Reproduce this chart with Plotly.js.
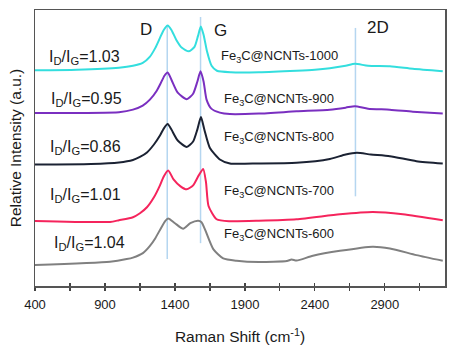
<!DOCTYPE html>
<html>
<head>
<meta charset="utf-8">
<script src="https://cdn.plot.ly/plotly-3.0.1.min.js"></script>
<style>html,body{margin:0;padding:0;background:#fff;}#chart{width:470px;height:355px;}</style>
</head>
<body>
<div id="chart"></div>
<script>
// Raman shift (cm-1) sample points and relative intensities (a.u., stacked offsets)
const x1000 = [400,700,1000,1100,1170,1220,1260,1293,1320,1348,1375,1410,1450,1500,1540,1565,1585,1605,1630,1662,1700,1800,2000,2269,2400,2507,2620,2686,2780,2936,3100,3314];
const y1000 = [216.5,217,219,221,224,230,239,249,257,261.5,257,247,239,235.5,240,251,260.5,252,235,221,216,214.5,214.5,216,217,218.5,221,223,221,220.5,218,215.5];

const x900 = [400,1000,1100,1170,1221,1270,1300,1325,1348,1375,1420,1484,1530,1560,1583,1605,1626,1660,1721,1793,2000,2269,2507,2620,2686,2780,2936,3100,3314];
const y900 = [173.7,174.5,177,181,187,196,204,211,214.3,207,194,187.5,193,205,215.5,205,187,178,174,172.5,173,175.3,177,179,180.5,178,177,175,173];

const x800 = [400,800,1000,1100,1150,1200,1250,1293,1320,1348,1375,1420,1484,1530,1560,1586,1610,1650,1721,1793,2000,2269,2507,2620,2700,2800,2936,3126,3314];
const y800 = [122,122.5,124,126.5,129.5,134,142,151,158,162.5,157,146,139.5,145,157,169.5,157,138.5,127,123,123,123.7,127.5,132,133.7,132,130.3,125.3,123];

const x700 = [400,936,1000,1100,1150,1200,1250,1293,1320,1352,1390,1440,1484,1530,1570,1602,1622,1640,1698,1793,2000,2269,2579,2814,3029,3314];
const y700 = [65.3,64.3,66,69,73,79,89,101,110,116,107,100,97,101,111,117.5,104,80.3,67,65,65.5,67,72,74.3,72,66];

const x600 = [400,936,1055,1100,1171,1220,1260,1300,1330,1352,1400,1459,1510,1566,1590,1614,1674,1745,1841,2000,2200,2233,2270,2386,2579,2814,2936,3126,3314];
const y600 = [21,24.3,27,28.5,33,40,48,58,65,67.7,63,57.5,63,65.5,64,57,37,27.7,25.3,24,25,26.5,25.5,30.3,35.3,39.5,37.7,31,25.3];

const sampleNames = ["Fe<sub>3</sub>C@NCNTs-1000","Fe<sub>3</sub>C@NCNTs-900","Fe<sub>3</sub>C@NCNTs-800","Fe<sub>3</sub>C@NCNTs-700","Fe<sub>3</sub>C@NCNTs-600"];
const ratioLabels = ["1.03","0.95","0.86","1.01","1.04"];
const bandNames = ["D","G","2D"];
const bandPositions = [1345,1583,2690];
const xTickVals = [400,900,1400,1900,2400,2900];

const colors = ["#33dede","#7a2fc0","#1b2233","#f5245c","#808080"];
const xs = [x1000,x900,x800,x700,x600];
const ys = [y1000,y900,y800,y700,y600];

const traces = xs.map((x,i)=>({
  x: x, y: ys[i], type:'scatter', mode:'lines',
  line:{color:colors[i], width:2, shape:'spline', smoothing:0.6},
  showlegend:false, hoverinfo:'skip'
}));
// dummy trace for the overlay axis that draws the inner half of crossing ticks
traces.push({x:[400],y:[0],xaxis:'x2',yaxis:'y',mode:'markers',marker:{opacity:0},showlegend:false,hoverinfo:'skip'});

// band marker line extents (y, a.u.)
const bandLineY = [[27,262],[43,270],[90,259]];
const shapes = bandPositions.map((b,i)=>({
  type:'line', xref:'x', yref:'y', x0:b, x1:b, y0:bandLineY[i][0], y1:bandLineY[i][1],
  line:{color:'#b5d6f0', width:1.5}, layer:'below'
}));

const font = 'Arial, "Liberation Sans", sans-serif';
const annotations = [];
const ratioPos = [[486,229],[500,187.5],[493,139],[493,91],[519,43]];
ratioLabels.forEach((r,i)=>{
  annotations.push({x:ratioPos[i][0], y:ratioPos[i][1], xref:'x', yref:'y', xanchor:'left', yanchor:'middle',
    text:'I<sub>D</sub>/I<sub>G</sub>='+r, showarrow:false, font:{family:font,size:16,color:'#1a1a1a'}});
});
const namePos = [[1714,230],[1733,187.5],[1733,149.3],[1733,95.3],[1733,51.5]];
sampleNames.forEach((n,i)=>{
  annotations.push({x:namePos[i][0], y:namePos[i][1], xref:'x', yref:'y', xanchor:'left', yanchor:'middle',
    text:n, showarrow:false, font:{family:font,size:13,color:'#1a1a1a'}});
});
const bandLabelPos = [[1193,257],[1729,256],[2850,259]];
bandNames.forEach((b,i)=>{
  annotations.push({x:bandLabelPos[i][0], y:bandLabelPos[i][1], xref:'x', yref:'y', xanchor:'center', yanchor:'middle',
    text:b, showarrow:false, font:{family:font,size:17,color:'#1a1a1a'}});
});

const layout = {
  width:470, height:355,
  margin:{l:35, r:25, t:10, b:69},
  paper_bgcolor:'#fff', plot_bgcolor:'#fff',
  font:{family:font, color:'#1a1a1a'},
  xaxis:{
    range:[400,3330], tickvals:xTickVals, ticktext:xTickVals.map(String),
    ticks:'outside', ticklen:3, tickwidth:1.2, tickcolor:'#444', ticklabelstandoff:3,
    minor:{dtick:250, tick0:400, ticks:'outside', ticklen:3, tickwidth:1.2, tickcolor:'#444'},
    showline:true, mirror:true, linecolor:'#555', linewidth:1.5,
    showgrid:false, zeroline:false,
    tickfont:{family:font,size:13,color:'#1a1a1a'},
    title:{text:'Raman Shift (cm<sup>-1</sup>)', font:{family:font,size:15.5,color:'#1a1a1a'}, standoff:20}
  },
  xaxis2:{
    overlaying:'x', side:'bottom', anchor:'y', range:[400,3330], tickvals:xTickVals,
    showticklabels:false, ticks:'inside', ticklen:3, tickwidth:1.2, tickcolor:'#444',
    minor:{dtick:250, tick0:400, ticks:'inside', ticklen:3, tickwidth:1.2, tickcolor:'#444'},
    showgrid:false, zeroline:false, showline:false
  },
  yaxis:{
    range:[0,277], showticklabels:false, ticks:'', showgrid:false, zeroline:false,
    showline:true, mirror:true, linecolor:'#555', linewidth:1.5,
    title:{text:'Relative Intensity (a.u.)', font:{family:font,size:15.5,color:'#1a1a1a'}, standoff:8}
  },
  shapes:shapes,
  annotations:annotations
};

Plotly.newPlot('chart', traces, layout, {staticPlot:true, displayModeBar:false});
</script>
</body>
</html>
